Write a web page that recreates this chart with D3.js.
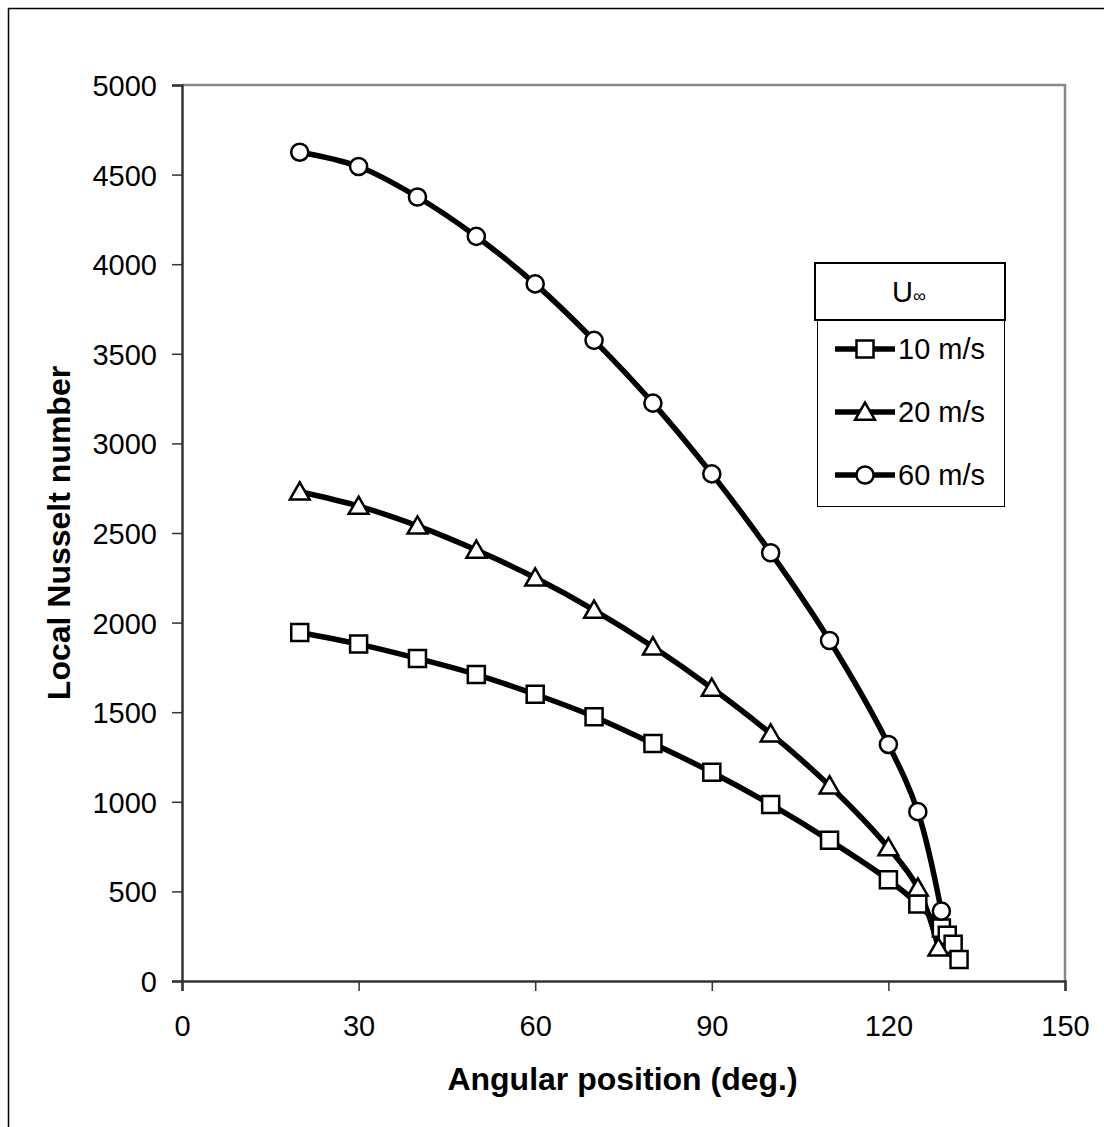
<!DOCTYPE html>
<html>
<head>
<meta charset="utf-8">
<script src="https://cdn.jsdelivr.net/npm/d3@7"></script>
<style>
  body { margin: 0; background: #fff; }
  text { font-family: "Liberation Sans", Arial, sans-serif; fill: #000; }
</style>
</head>
<body>
<div id="chart"></div>
<script>
// angular position (deg) and local Nusselt number per free-stream velocity
var angles10 = [20, 30, 40, 50, 60, 70, 80, 90, 100, 110, 120, 125, 129, 130, 131, 132];
var nu10 = [1945, 1880, 1800, 1710, 1600, 1475, 1325, 1165, 985, 785, 565, 430, 295, 255, 205, 120];

var angles20 = [20, 30, 40, 50, 60, 70, 80, 90, 100, 110, 120, 125, 128.5];
var nu20 = [2730, 2650, 2540, 2405, 2250, 2070, 1865, 1635, 1380, 1090, 745, 520, 185];

var angles60 = [20, 30, 40, 50, 60, 70, 80, 90, 100, 110, 120, 125, 129];
var nu60 = [4625, 4545, 4375, 4155, 3890, 3575, 3225, 2830, 2390, 1900, 1320, 945, 390];

var seriesNames = ["10 m/s", "20 m/s", "60 m/s"];
var seriesShapes = ["square", "triangle", "circle"];
var xTicks = [0, 30, 60, 90, 120, 150];
var yTicks = [0, 500, 1000, 1500, 2000, 2500, 3000, 3500, 4000, 4500, 5000];

var W = 1104, H = 1127;
var margin = {top: 85, right: 39, bottom: 146, left: 182};
var width = W - margin.left - margin.right,
    height = H - margin.top - margin.bottom;

var svg = d3.select("#chart").append("svg")
    .attr("width", W)
    .attr("height", H);

// outer frame (right/bottom fall off the picture)
svg.append("rect")
    .attr("x", 8.5).attr("y", 8.5)
    .attr("width", W + 20).attr("height", H + 20)
    .attr("fill", "none").attr("stroke", "#000").attr("stroke-width", 1.5);

var x = d3.scaleLinear().domain([0, 150]).range([0, width]);
var y = d3.scaleLinear().domain([0, 5000]).range([height, 0]);

var main = svg.append("g")
    .attr("transform", "translate(" + margin.left + "," + margin.top + ")");

// plot area border (top and right)
main.append("path")
    .attr("d", "M0,0H" + width + "V" + height)
    .attr("fill", "none").attr("stroke", "#888").attr("stroke-width", 2.5);

// axes
var xAxis = d3.axisBottom(x).tickValues(xTicks).tickFormat(d3.format("d")).tickSize(10).tickPadding(22);
var yAxis = d3.axisLeft(y).tickValues(yTicks).tickFormat(d3.format("d")).tickSize(10).tickPadding(15);

var gx = main.append("g")
    .attr("transform", "translate(0," + height + ")")
    .call(xAxis);
var gy = main.append("g").call(yAxis);

[gx, gy].forEach(function(g) {
  g.attr("font-size", null).attr("font-family", null);
  g.select(".domain").attr("stroke", "#333").attr("stroke-width", 2.5);
  g.selectAll(".tick line").attr("stroke", "#333").attr("stroke-width", 1.5);
  g.selectAll(".tick text")
      .style("font-family", "'Liberation Sans', Arial, sans-serif")
      .style("font-size", "29px")
      .attr("fill", "#000");
});
gx.selectAll(".tick text").attr("dy", "0.78em");
gy.selectAll(".tick text").attr("dy", "0.36em");

// axis titles
svg.append("text")
    .attr("x", margin.left + width / 2 - 1)
    .attr("y", 1090)
    .attr("text-anchor", "middle")
    .style("font-size", "32px")
    .style("font-weight", "bold")
    .text("Angular position (deg.)");

svg.append("text")
    .attr("transform", "translate(70," + (margin.top + height / 2) + ") rotate(-90)")
    .attr("text-anchor", "middle")
    .style("font-size", "32px")
    .style("font-weight", "bold")
    .text("Local Nusselt number");

// series
var series = [
  {name: seriesNames[0], shape: seriesShapes[0], data: angles10.map(function(a, i) { return {x: a, y: nu10[i]}; })},
  {name: seriesNames[1], shape: seriesShapes[1], data: angles20.map(function(a, i) { return {x: a, y: nu20[i]}; })},
  {name: seriesNames[2], shape: seriesShapes[2], data: angles60.map(function(a, i) { return {x: a, y: nu60[i]}; })}
];

var line = d3.line()
    .x(function(d) { return x(d.x); })
    .y(function(d) { return y(d.y); })
    .curve(d3.curveCatmullRom.alpha(0.5));

var symbols = {
  square: d3.symbol().type(d3.symbolSquare).size(290),
  triangle: d3.symbol().type(d3.symbolTriangle).size(170),
  circle: d3.symbol().type(d3.symbolCircle).size(230)
};

function drawMarker(g, shape, cx, cy) {
  var dy = shape === "triangle" ? 2 : 0;
  g.append("path")
      .attr("d", symbols[shape]())
      .attr("transform", "translate(" + cx + "," + (cy + dy) + ")")
      .attr("fill", "#fff")
      .attr("stroke", "#000")
      .attr("stroke-width", 2.5);
}

series.forEach(function(s) {
  main.append("path")
      .datum(s.data)
      .attr("d", line)
      .attr("fill", "none")
      .attr("stroke", "#000")
      .attr("stroke-width", 5.5);
});

series.forEach(function(s) {
  var g = main.append("g");
  s.data.forEach(function(d) {
    drawMarker(g, s.shape, x(d.x), y(d.y));
  });
});

// legend
var legend = svg.append("g");
legend.append("rect")
    .attr("x", 817.5).attr("y", 320.5)
    .attr("width", 187).attr("height", 186)
    .attr("fill", "#fff").attr("stroke", "#000").attr("stroke-width", 1);
legend.append("rect")
    .attr("x", 815).attr("y", 263)
    .attr("width", 190).attr("height", 57)
    .attr("fill", "#fff").attr("stroke", "#000").attr("stroke-width", 2);

var title = legend.append("text")
    .attr("x", 909).attr("y", 302)
    .attr("text-anchor", "middle")
    .style("font-size", "29px");
title.append("tspan").text("U");
title.append("tspan").style("font-size", "18px").text("\u221E");

series.forEach(function(s, i) {
  var ly = 349 + i * 63;
  legend.append("line")
      .attr("x1", 835).attr("x2", 895)
      .attr("y1", ly).attr("y2", ly)
      .attr("stroke", "#000").attr("stroke-width", 5.5);
  drawMarker(legend, s.shape, 865, ly);
  legend.append("text")
      .attr("x", 898).attr("y", ly)
      .attr("dy", "0.36em")
      .style("font-size", "29px")
      .text(s.name);
});
</script>
</body>
</html>
